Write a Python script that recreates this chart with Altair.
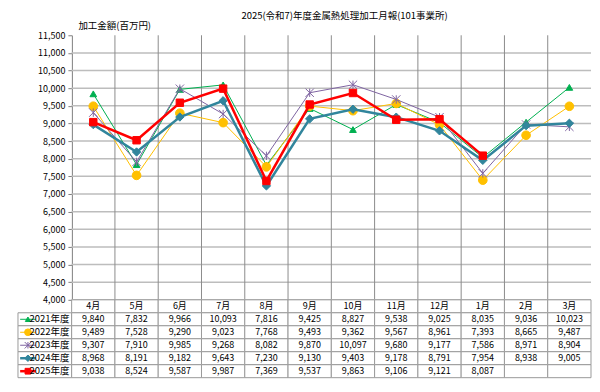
import altair as alt
import pandas as pd

FONT = "Noto Sans CJK JP"

months = ["4月", "5月", "6月", "7月", "8月", "9月", "10月", "11月", "12月", "1月", "2月", "3月"]
series = ["2021年度", "2022年度", "2023年度", "2024年度", "2025年度"]
v2021 = [9840, 7832, 9966, 10093, 7816, 9425, 8827, 9538, 9025, 8035, 9036, 10023]
v2022 = [9489, 7528, 9290, 9023, 7768, 9493, 9362, 9567, 8961, 7393, 8665, 9487]
v2023 = [9307, 7910, 9985, 9268, 8082, 9870, 10097, 9680, 9177, 7586, 8971, 8904]
v2024 = [8968, 8191, 9182, 9643, 7230, 9130, 9403, 9178, 8791, 7954, 8938, 9005]
v2025 = [9038, 8524, 9587, 9987, 7369, 9537, 9863, 9106, 9121, 8087, None, None]
y_ticks = [4000, 4500, 5000, 5500, 6000, 6500, 7000, 7500, 8000, 8500,
           9000, 9500, 10000, 10500, 11000, 11500]

values = [v2021, v2022, v2023, v2024, v2025]
colors = ["#00B050", "#FFC000", "#8064A2", "#31859C", "#FF0000"]
line_widths = [1, 1, 1, 2.5, 2.5]
shapes = ["triangle-up", "circle", "M-1,-1L1,1M-1,1L1,-1M0,-1L0,1", "diamond", "square"]
marker_sizes = [45, 75, 70, 70, 55]
filled = [True, True, False, True, True]

LEFT = -1.24          # left edge of the table's label column, in month units
KEY_X0, KEY_X1, KEY_XM = -1.19, -0.83, -1.01
W = 574

xs = alt.Scale(domain=[LEFT, len(months)], nice=False, zero=False)
ys = alt.Scale(domain=[y_ticks[0], y_ticks[-1]], nice=False, zero=False)

y_axis = alt.Axis(
    values=y_ticks, format=",d", offset=-54, grid=False,
    domainColor="#7f7f7f", tickColor="#7f7f7f", tickSize=4,
    labelFont=FONT, labelFontSize=9, labelColor="#000000", labelPadding=3,
    title="加工金額(百万円)", titleAngle=0, titleAlign="left", titleBaseline="middle",
    titleX=6, titleY=-10, titleFont=FONT, titleFontSize=9.5, titleFontWeight="normal",
    titleColor="#000000")

rows = []
for s, vals in zip(series, values):
    for j, (m, v) in enumerate(zip(months, vals)):
        rows.append({"series": s, "month": m, "x": j + 0.5, "value": v})
long = pd.DataFrame(rows)

# ---------------- main chart ----------------
hgrid_df = pd.DataFrame({"v": y_ticks[:-1], "x0": 0, "x1": len(months)})
hgrid = alt.Chart(hgrid_df).mark_rule(color="#bdbdbd", strokeWidth=1.5).encode(
    x=alt.X("x0:Q", scale=xs, axis=None),
    x2="x1",
    y=alt.Y("v:Q", scale=ys, axis=y_axis),
)

vgrid_df = pd.DataFrame({"b": list(range(1, len(months))), "y0": y_ticks[0], "y1": y_ticks[-1]})
vgrid = alt.Chart(vgrid_df).mark_rule(color="#8c8c8c", strokeWidth=1).encode(
    x=alt.X("b:Q", scale=xs, axis=None),
    y=alt.Y("y0:Q", scale=ys, axis=y_axis),
    y2="y1",
)

layers = [hgrid, vgrid]
for s, c, w, shp, sz, f in zip(series, colors, line_widths, shapes, marker_sizes, filled):
    d = long[(long.series == s) & long.value.notna()]
    enc = dict(x=alt.X("x:Q", scale=xs, axis=None),
               y=alt.Y("value:Q", scale=ys, axis=y_axis))
    layers.append(alt.Chart(d).mark_line(color=c, strokeWidth=w).encode(**enc))
    if f:
        pm = alt.Chart(d).mark_point(shape=shp, size=sz, filled=True, color=c,
                                     stroke=c, strokeWidth=1, opacity=1)
    else:
        pm = alt.Chart(d).mark_point(shape=shp, size=sz, filled=False, color=c,
                                     strokeWidth=1, opacity=1)
    layers.append(pm.encode(**enc))

main = alt.layer(*layers).properties(width=W, height=265)

# ---------------- data table ----------------
row_keys = ["hdr"] + series
ys_t = alt.Scale(domain=row_keys, paddingInner=0, paddingOuter=0)
t_axis = alt.Axis(
    orient="left", offset=-54, domain=False, ticks=False, labelPadding=3,
    labelExpr="datum.value == 'hdr' ? '' : datum.value",
    labelFont=FONT, labelFontSize=9.5, labelColor="#000000", title=None)

cells = []
for j, m in enumerate(months):
    cells.append({"row": "hdr", "x0": j, "x1": j + 1, "xm": j + 0.5, "txt": m})
for s, vals in zip(series, values):
    cells.append({"row": s, "x0": LEFT, "x1": 0, "xm": LEFT / 2, "txt": ""})
    for j, v in enumerate(vals):
        cells.append({"row": s, "x0": j, "x1": j + 1, "xm": j + 0.5,
                      "txt": "" if v is None else f"{v:,}"})
cells_df = pd.DataFrame(cells)

ty = alt.Y("row:N", scale=ys_t, sort=row_keys, axis=t_axis)
rect = alt.Chart(cells_df).mark_rect(fill="#ffffff", stroke="#9a9a9a", strokeWidth=1).encode(
    x=alt.X("x0:Q", scale=xs, axis=None), x2="x1", y=ty)
txt = alt.Chart(cells_df).mark_text(font=FONT, fontSize=9, color="#000000").encode(
    x=alt.X("xm:Q", scale=xs, axis=None), y=ty, text="txt:N")

tlayers = [rect, txt]
keys = pd.DataFrame({"row": series, "k0": KEY_X0, "k1": KEY_X1, "km": KEY_XM})
for s, c, w, shp, sz, f in zip(series, colors, line_widths, shapes, marker_sizes, filled):
    d = keys[keys.row == s]
    tlayers.append(alt.Chart(d).mark_rule(color=c, strokeWidth=w).encode(
        x=alt.X("k0:Q", scale=xs, axis=None), x2="k1", y=ty))
    if f:
        pm = alt.Chart(d).mark_point(shape=shp, size=sz * 0.6, filled=True, color=c,
                                     stroke=c, strokeWidth=1, opacity=1)
    else:
        pm = alt.Chart(d).mark_point(shape=shp, size=sz * 0.6, filled=False, color=c,
                                     strokeWidth=1, opacity=1)
    tlayers.append(pm.encode(x=alt.X("km:Q", scale=xs, axis=None), y=ty))

table = alt.layer(*tlayers).properties(width=W, height=78)

chart = alt.vconcat(main, table, spacing=0, bounds="flush").properties(
    title=alt.TitleParams("2025(令和7)年度金属熱処理加工月報(101事業所)", font=FONT,
                          fontSize=9.5, fontWeight="normal", color="#000000",
                          anchor="middle", dx=40, offset=0),
    padding={"left": 9, "top": 2, "right": 0, "bottom": 0},
    background="white",
).configure_view(stroke=None).resolve_scale(y="independent")

chart.save("out.html", embed_options={"renderer": "svg", "actions": False})
